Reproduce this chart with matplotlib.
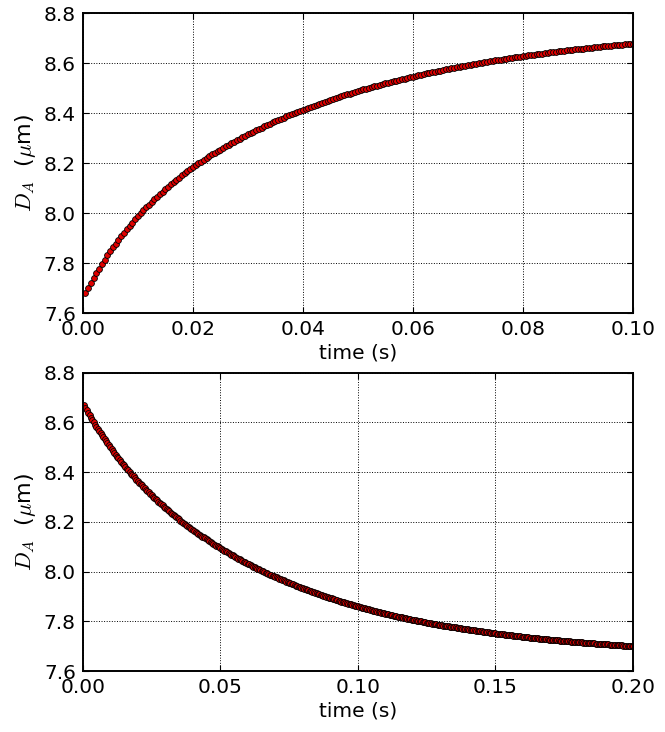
"""
Диаметр D_A во времени: рост (верх) и релаксация (низ).
Значения сняты с картинки, шаг по времени 0.5 мс.
"""

# %% imports
import numpy as np
import matplotlib
matplotlib.use("Agg")
import matplotlib.pyplot as plt

# %% данные

# шаг записи (с)
dt_grow = 0.0005
dt_relax = 0.0005

# D_A (мкм), рост, t = 0.0005 ... 0.1
d_grow = [
    7.679, 7.700, 7.721, 7.740, 7.760, 7.778, 7.796, 7.814, 7.831, 7.847,
    7.863, 7.878, 7.893, 7.908, 7.922, 7.936, 7.949, 7.962, 7.975, 7.988,
    8.000, 8.011, 8.023, 8.034, 8.045, 8.056, 8.066, 8.076, 8.086, 8.096,
    8.106, 8.115, 8.124, 8.133, 8.142, 8.151, 8.159, 8.167, 8.175, 8.183,
    8.191, 8.199, 8.206, 8.214, 8.221, 8.228, 8.235, 8.242, 8.249, 8.255,
    8.262, 8.268, 8.275, 8.281, 8.287, 8.293, 8.299, 8.305, 8.311, 8.316,
    8.322, 8.327, 8.333, 8.338, 8.343, 8.349, 8.354, 8.359, 8.364, 8.369,
    8.374, 8.378, 8.383, 8.388, 8.392, 8.397, 8.401, 8.406, 8.410, 8.414,
    8.418, 8.423, 8.427, 8.431, 8.435, 8.439, 8.443, 8.446, 8.450, 8.454,
    8.458, 8.461, 8.465, 8.469, 8.472, 8.476, 8.479, 8.482, 8.486, 8.489,
    8.492, 8.496, 8.499, 8.502, 8.505, 8.508, 8.511, 8.514, 8.517, 8.520,
    8.523, 8.526, 8.528, 8.531, 8.534, 8.537, 8.539, 8.542, 8.545, 8.547,
    8.550, 8.552, 8.555, 8.557, 8.560, 8.562, 8.564, 8.567, 8.569, 8.571,
    8.574, 8.576, 8.578, 8.580, 8.582, 8.585, 8.587, 8.589, 8.591, 8.593,
    8.595, 8.597, 8.599, 8.601, 8.603, 8.605, 8.606, 8.608, 8.610, 8.612,
    8.614, 8.615, 8.617, 8.619, 8.621, 8.622, 8.624, 8.626, 8.627, 8.629,
    8.630, 8.632, 8.633, 8.635, 8.636, 8.638, 8.639, 8.641, 8.642, 8.644,
    8.645, 8.647, 8.648, 8.649, 8.651, 8.652, 8.653, 8.654, 8.656, 8.657,
    8.658, 8.659, 8.661, 8.662, 8.663, 8.664, 8.665, 8.667, 8.668, 8.669,
    8.670, 8.671, 8.672, 8.673, 8.674, 8.675, 8.676, 8.677, 8.678, 8.679,
]

# D_A (мкм), релаксация, t = 0.0005 ... 0.2
d_relax = [
    8.669, 8.659, 8.649, 8.639, 8.629, 8.619, 8.610, 8.601, 8.591, 8.582,
    8.573, 8.565, 8.556, 8.547, 8.539, 8.531, 8.523, 8.515, 8.507, 8.499,
    8.491, 8.484, 8.476, 8.469, 8.462, 8.455, 8.448, 8.441, 8.434, 8.427,
    8.420, 8.414, 8.407, 8.401, 8.394, 8.388, 8.382, 8.375, 8.369, 8.363,
    8.357, 8.351, 8.346, 8.340, 8.334, 8.329, 8.323, 8.318, 8.312, 8.307,
    8.301, 8.296, 8.291, 8.286, 8.281, 8.276, 8.271, 8.266, 8.261, 8.256,
    8.251, 8.246, 8.242, 8.237, 8.232, 8.228, 8.223, 8.219, 8.214, 8.210,
    8.205, 8.201, 8.197, 8.192, 8.188, 8.184, 8.180, 8.176, 8.172, 8.168,
    8.164, 8.160, 8.156, 8.152, 8.148, 8.144, 8.140, 8.137, 8.133, 8.129,
    8.126, 8.122, 8.118, 8.115, 8.111, 8.108, 8.104, 8.101, 8.097, 8.094,
    8.091, 8.087, 8.084, 8.081, 8.077, 8.074, 8.071, 8.068, 8.065, 8.061,
    8.058, 8.055, 8.052, 8.049, 8.046, 8.043, 8.040, 8.037, 8.034, 8.031,
    8.029, 8.026, 8.023, 8.020, 8.017, 8.015, 8.012, 8.009, 8.006, 8.004,
    8.001, 7.998, 7.996, 7.993, 7.991, 7.988, 7.986, 7.983, 7.981, 7.978,
    7.976, 7.973, 7.971, 7.968, 7.966, 7.964, 7.961, 7.959, 7.957, 7.954,
    7.952, 7.950, 7.948, 7.945, 7.943, 7.941, 7.939, 7.937, 7.935, 7.933,
    7.930, 7.928, 7.926, 7.924, 7.922, 7.920, 7.918, 7.916, 7.914, 7.912,
    7.910, 7.908, 7.906, 7.905, 7.903, 7.901, 7.899, 7.897, 7.895, 7.893,
    7.892, 7.890, 7.888, 7.886, 7.885, 7.883, 7.881, 7.879, 7.878, 7.876,
    7.874, 7.873, 7.871, 7.869, 7.868, 7.866, 7.865, 7.863, 7.861, 7.860,
    7.858, 7.857, 7.855, 7.854, 7.852, 7.851, 7.849, 7.848, 7.846, 7.845,
    7.843, 7.842, 7.841, 7.839, 7.838, 7.836, 7.835, 7.834, 7.832, 7.831,
    7.830, 7.828, 7.827, 7.826, 7.824, 7.823, 7.822, 7.821, 7.819, 7.818,
    7.817, 7.816, 7.815, 7.813, 7.812, 7.811, 7.810, 7.809, 7.807, 7.806,
    7.805, 7.804, 7.803, 7.802, 7.801, 7.800, 7.798, 7.797, 7.796, 7.795,
    7.794, 7.793, 7.792, 7.791, 7.790, 7.789, 7.788, 7.787, 7.786, 7.785,
    7.784, 7.783, 7.782, 7.781, 7.780, 7.779, 7.778, 7.777, 7.776, 7.776,
    7.775, 7.774, 7.773, 7.772, 7.771, 7.770, 7.769, 7.768, 7.768, 7.767,
    7.766, 7.765, 7.764, 7.763, 7.763, 7.762, 7.761, 7.760, 7.759, 7.759,
    7.758, 7.757, 7.756, 7.755, 7.755, 7.754, 7.753, 7.752, 7.752, 7.751,
    7.750, 7.750, 7.749, 7.748, 7.747, 7.747, 7.746, 7.745, 7.745, 7.744,
    7.743, 7.743, 7.742, 7.741, 7.741, 7.740, 7.739, 7.739, 7.738, 7.738,
    7.737, 7.736, 7.736, 7.735, 7.734, 7.734, 7.733, 7.733, 7.732, 7.731,
    7.731, 7.730, 7.730, 7.729, 7.729, 7.728, 7.728, 7.727, 7.726, 7.726,
    7.725, 7.725, 7.724, 7.724, 7.723, 7.723, 7.722, 7.722, 7.721, 7.721,
    7.720, 7.720, 7.719, 7.719, 7.718, 7.718, 7.717, 7.717, 7.716, 7.716,
    7.715, 7.715, 7.715, 7.714, 7.714, 7.713, 7.713, 7.712, 7.712, 7.711,
    7.711, 7.711, 7.710, 7.710, 7.709, 7.709, 7.709, 7.708, 7.708, 7.707,
    7.707, 7.707, 7.706, 7.706, 7.705, 7.705, 7.705, 7.704, 7.704, 7.704,
    7.703, 7.703, 7.702, 7.702, 7.702, 7.701, 7.701, 7.701, 7.700, 7.700,
]

yticks = [7.6, 7.8, 8.0, 8.2, 8.4, 8.6, 8.8]
xticks_grow = [0.00, 0.02, 0.04, 0.06, 0.08, 0.10]
xticks_relax = [0.00, 0.05, 0.10, 0.15, 0.20]

# %% стиль "как в старом matplotlib"
plt.rcParams["font.family"] = "DejaVu Sans"
plt.rcParams["font.size"] = 14.5
plt.rcParams["mathtext.fontset"] = "cm"
plt.rcParams["xtick.direction"] = "in"
plt.rcParams["ytick.direction"] = "in"
plt.rcParams["xtick.top"] = True
plt.rcParams["ytick.right"] = True
plt.rcParams["xtick.major.size"] = 4
plt.rcParams["ytick.major.size"] = 4
plt.rcParams["xtick.major.pad"] = 5
plt.rcParams["ytick.major.pad"] = 5
plt.rcParams["axes.linewidth"] = 1.4

fig = plt.figure(figsize=(6.65, 7.32), dpi=100)
ax1 = fig.add_axes([0.1244, 0.5724, 0.8275, 0.4092])
ax2 = fig.add_axes([0.1244, 0.0833, 0.8275, 0.4078])

panels = [
    (ax1, dt_grow, d_grow, xticks_grow),
    (ax2, dt_relax, d_relax, xticks_relax),
]

for ax, dt, d, xt in panels:
    t = dt * np.arange(1, len(d) + 1)
    ax.plot(t, d, "o", color="#e00000", markeredgecolor="k",
            markersize=4.2, markeredgewidth=0.6, linestyle="none")
    ax.set_xlim(xt[0], xt[-1])
    ax.set_ylim(yticks[0], yticks[-1])
    ax.set_xticks(xt)
    ax.set_xticklabels(["%.2f" % v for v in xt])
    ax.set_yticks(yticks)
    ax.set_yticklabels(["%.1f" % v for v in yticks])
    ax.grid(True, linestyle=":", color="k", linewidth=0.7)
    ax.set_xlabel("time (s)", labelpad=3)
    ax.set_ylabel(r"$D_A$  ($\mu$m)", fontsize=16, labelpad=4)

fig.savefig("out.png", dpi=100)
